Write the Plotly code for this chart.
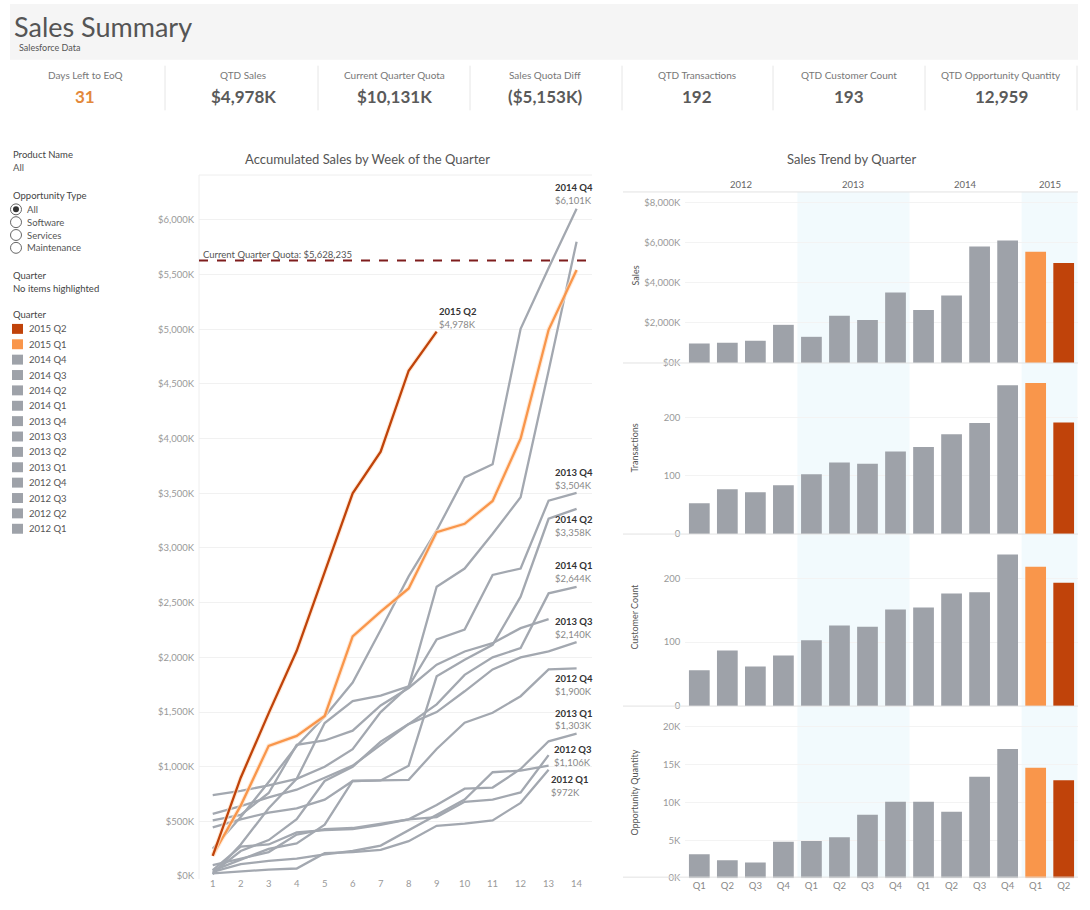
import plotly.graph_objects as go

W, H = 1090, 910
FONT = "Lato"

# ---------------- data ----------------
weeks = list(range(1, 15))
quarters = ["2012 Q1", "2012 Q2", "2012 Q3", "2012 Q4",
            "2013 Q1", "2013 Q2", "2013 Q3", "2013 Q4",
            "2014 Q1", "2014 Q2", "2014 Q3", "2014 Q4",
            "2015 Q1", "2015 Q2"]
quarter_ticks = ["Q1", "Q2", "Q3", "Q4"] * 3 + ["Q1", "Q2"]
years = ["2012", "2013", "2014", "2015"]

# accumulated sales ($K) by week of quarter
acc_2012_q1 = [25, 45, 60, 70, 210, 220, 240, 320, 460, 480, 510, 670, 972]
acc_2012_q2 = [40, 110, 140, 160, 200, 230, 280, 420, 560, 700, 950, 965, 1010]
acc_2012_q3 = [55, 270, 290, 400, 420, 430, 470, 520, 540, 680, 700, 766, 1106]
acc_2012_q4 = [445, 520, 580, 620, 700, 870, 875, 880, 1163, 1403, 1494, 1645, 1890, 1900]
acc_2013_q1 = [100, 160, 220, 380, 430, 440, 480, 520, 650, 800, 810, 980, 1233, 1303]
acc_2013_q2 = [510, 560, 760, 1200, 1240, 1330, 1560, 1720, 1933, 2054, 2130, 2267, 2350]
acc_2013_q3 = [570, 640, 720, 790, 900, 1010, 1200, 1390, 1500, 1690, 1890, 2000, 2055, 2140]
acc_2013_q4 = [740, 780, 830, 890, 1000, 1160, 1500, 1736, 2164, 2254, 2754, 2812, 3433, 3504]
acc_2014_q1 = [30, 230, 330, 520, 870, 1000, 1230, 1390, 1570, 1840, 2000, 2085, 2585, 2644]
acc_2014_q2 = [50, 150, 250, 300, 470, 870, 875, 1010, 1827, 1979, 2115, 2555, 3267, 3358]
acc_2014_q3 = [18, 290, 620, 890, 1400, 1600, 1650, 1736, 2645, 2812, 3130, 3464, 4620, 5800]
acc_2014_q4 = [250, 540, 860, 1190, 1460, 1770, 2250, 2740, 3160, 3645, 3766, 5003, 5560, 6101]
acc_2015_q1 = [191, 645, 1191, 1282, 1464, 2191, 2418, 2630, 3145, 3221, 3430, 4000, 4994, 5540]
acc_2015_q2 = [185, 900, 1490, 2060, 2780, 3500, 3880, 4620, 4978]

accumulated = [acc_2012_q1, acc_2012_q2, acc_2012_q3, acc_2012_q4,
               acc_2013_q1, acc_2013_q2, acc_2013_q3, acc_2013_q4,
               acc_2014_q1, acc_2014_q2, acc_2014_q3, acc_2014_q4,
               acc_2015_q1, acc_2015_q2]

quota_k = 5628.235
transactions = [53, 77, 72, 84, 103, 123, 121, 142, 150, 172, 191, 256, 260, 192]
customers = [56, 87, 62, 79, 103, 126, 124, 151, 154, 176, 178, 237, 218, 193]
opportunities = [3160, 2370, 2060, 4830, 4900, 5400, 8400, 10100, 10100, 8800, 13400, 17100, 14600, 12959]
sales_totals = [s[-1] for s in accumulated]

kpi_labels = ["Days Left to EoQ", "QTD Sales", "Current Quarter Quota", "Sales Quota Diff",
              "QTD Transactions", "QTD Customer Count", "QTD Opportunity Quantity"]
kpi_values = ["31", "$4,978K", "$10,131K", "($5,153K)", "192", "193", "12,959"]

labelled = ["2014 Q4", "2015 Q2", "2013 Q4", "2014 Q2", "2014 Q1", "2013 Q3",
            "2012 Q4", "2013 Q1", "2012 Q3", "2012 Q1"]
legend_order = quarters[::-1]
opp_types = ["All", "Software", "Services", "Maintenance"]

# ---------------- styles ----------------
GRAY = "#9ea2a9"
LINE_GRAY = "#a3a8b0"
ORANGE_L = "#f9964b"
ORANGE_D = "#c0430a"
TXT = "#555555"


def px(x):
    return x / W


def py(y):
    return 1 - y / H


def q_color(q, line=False):
    if q == "2015 Q2":
        return ORANGE_D
    if q == "2015 Q1":
        return ORANGE_L
    return LINE_GRAY if line else GRAY


fig = go.Figure()

# ---------------- line chart ----------------
for q, vals in zip(quarters, accumulated):
    wk = weeks[:len(vals)]
    if q.startswith("2015"):
        fig.add_trace(go.Scatter(x=wk, y=vals, mode="lines",
                                 line=dict(color="rgba(255,225,200,0.7)", width=4.5),
                                 xaxis="x", yaxis="y", hoverinfo="skip", showlegend=False))
    fig.add_trace(go.Scatter(x=wk, y=vals, mode="lines",
                             line=dict(color=q_color(q, True), width=2.3),
                             xaxis="x", yaxis="y", name=q, hoverinfo="skip", showlegend=False))

# ---------------- bar panels ----------------
bar_colors = [q_color(q) for q in quarters]
for vals, ya in [(sales_totals, "y2"), (transactions, "y3"), (customers, "y4"), (opportunities, "y5")]:
    fig.add_trace(go.Bar(x=quarters, y=vals, marker=dict(color=bar_colors, line=dict(width=0)),
                         width=0.74, xaxis="x2", yaxis=ya, hoverinfo="skip", showlegend=False))

shapes = []
annotations = []

# title band
shapes.append(dict(type="rect", xref="paper", yref="paper", x0=px(10), x1=px(1078),
                   y0=py(60), y1=py(4), fillcolor="#f5f5f5", line=dict(width=0), layer="below"))
annotations.append(dict(text="Sales Summary", x=px(12), y=py(27), xref="paper", yref="paper",
                        xanchor="left", yanchor="middle", showarrow=False,
                        font=dict(family=FONT, size=27, color=TXT)))
annotations.append(dict(text="Salesforce Data", x=px(17), y=py(48), xref="paper", yref="paper",
                        xanchor="left", yanchor="middle", showarrow=False,
                        font=dict(family=FONT, size=9, color=TXT)))

# KPI row
kpi_centers = [85, 243, 394, 545, 697, 849, 1001]
for i, (lab, val) in enumerate(zip(kpi_labels, kpi_values)):
    cx = kpi_centers[i]
    annotations.append(dict(text=lab, x=px(cx), y=py(75), xref="paper", yref="paper",
                            xanchor="center", yanchor="middle", showarrow=False,
                            font=dict(family=FONT, size=10, color="#777777")))
    annotations.append(dict(text="<b>%s</b>" % val, x=px(cx), y=py(97), xref="paper", yref="paper",
                            xanchor="center", yanchor="middle", showarrow=False,
                            font=dict(family=FONT, size=17, color="#e3883a" if i == 0 else "#5a5a5a")))
for sx in [165, 318, 470, 622, 773, 925, 1077]:
    shapes.append(dict(type="line", xref="paper", yref="paper", x0=px(sx), x1=px(sx),
                       y0=py(66), y1=py(111), line=dict(color="#e6e6e6", width=1)))

# left filter panel
def left_text(t, y, x=11, color="#444444", size=9.5):
    annotations.append(dict(text=t, x=px(x), y=py(y), xref="paper", yref="paper",
                            xanchor="left", yanchor="middle", showarrow=False,
                            font=dict(family=FONT, size=size, color=color)))

left_text("Product Name", 155)
left_text("All", 168, color="#555555")
left_text("Opportunity Type", 197)
for i, t in enumerate(opp_types):
    yy = 210.5 + i * 12.9
    shapes.append(dict(type="circle", xref="paper", yref="paper", x0=px(10.5), x1=px(21.5),
                       y0=py(yy + 5.5), y1=py(yy - 5.5), line=dict(color="#666666", width=1),
                       fillcolor="white"))
    if i == 0:
        shapes.append(dict(type="circle", xref="paper", yref="paper", x0=px(13), x1=px(19),
                           y0=py(yy + 3), y1=py(yy - 3), line=dict(color="#333333", width=0),
                           fillcolor="#333333"))
    left_text(t, yy, x=25, color="#555555")
left_text("Quarter", 277)
left_text("No items highlighted", 290, color="#444444")
left_text("Quarter", 316)
for i, q in enumerate(legend_order):
    yy = 330.7 + i * 15.46
    shapes.append(dict(type="rect", xref="paper", yref="paper", x0=px(12), x1=px(23),
                       y0=py(yy + 5), y1=py(yy - 5), line=dict(width=0), fillcolor=q_color(q)))
    left_text(q, yy, x=27, color="#555555")

# line chart title, quota line, borders
annotations.append(dict(text="Accumulated Sales by Week of the Quarter", x=px(367), y=py(160),
                        xref="paper", yref="paper", xanchor="center", yanchor="middle",
                        showarrow=False, font=dict(family=FONT, size=13, color=TXT)))
shapes.append(dict(type="line", xref="paper", yref="paper", x0=px(199), x1=px(592),
                   y0=py(176), y1=py(176), line=dict(color="#eeeeee", width=1)))
shapes.append(dict(type="line", xref="paper", yref="paper", x0=px(199), x1=px(199),
                   y0=py(176), y1=py(884), line=dict(color="#eeeeee", width=1)))
shapes.append(dict(type="line", xref="x domain", yref="y", x0=0, x1=1, y0=quota_k, y1=quota_k,
                   line=dict(color="#7e1d1d", width=2, dash="dash")))
annotations.append(dict(text="Current Quarter Quota: $%s" % format(int(round(quota_k * 1000)), ","),
                        x=px(201), y=py(256), xref="paper", yref="paper", xanchor="left",
                        yanchor="middle", showarrow=False,
                        font=dict(family=FONT, size=9.5, color=TXT)))

# end-of-line labels (position in px: left x, y of name)
label_pos = {"2014 Q4": (553, 189), "2015 Q2": (437, 313), "2013 Q4": (553, 475),
             "2014 Q2": (553, 522), "2014 Q1": (553, 569), "2013 Q3": (553, 625),
             "2012 Q4": (553, 682), "2013 Q1": (553, 717), "2012 Q3": (552, 754),
             "2012 Q1": (549, 784)}
for q in labelled:
    vals = accumulated[quarters.index(q)]
    lx, ly = label_pos[q]
    annotations.append(dict(text="<b>%s</b>" % q, x=px(lx), y=py(ly), xref="paper", yref="paper",
                            xanchor="left", yanchor="middle", showarrow=False,
                            font=dict(family=FONT, size=9.5, color="#333333")))
    annotations.append(dict(text="$%sK" % format(vals[-1], ","), x=px(lx), y=py(ly + 13),
                            xref="paper", yref="paper", xanchor="left", yanchor="middle",
                            showarrow=False, font=dict(family=FONT, size=9.5, color="#888888")))

# bar panel decorations
annotations.append(dict(text="Sales Trend by Quarter", x=px(851), y=py(160), xref="paper",
                        yref="paper", xanchor="center", yanchor="middle", showarrow=False,
                        font=dict(family=FONT, size=13, color=TXT)))
for xa, xb in [(3.5, 7.5), (11.5, 13.5)]:
    shapes.append(dict(type="rect", xref="x2", yref="paper", x0=xa, x1=xb, y0=py(882), y1=py(193),
                       fillcolor="#f2fafd", line=dict(width=0), layer="below"))
for yy in [193, 365, 537, 710, 882]:
    shapes.append(dict(type="line", xref="paper", yref="paper", x0=px(623), x1=px(1078),
                       y0=py(yy), y1=py(yy), line=dict(color="#e2e2e2", width=1)))
for yr, xc in zip(years, [1.5, 5.5, 9.5, 12.5]):
    annotations.append(dict(text=yr, x=xc, y=py(186), xref="x2", yref="paper", xanchor="center",
                            yanchor="middle", showarrow=False,
                            font=dict(family=FONT, size=9.5, color="#666666")))
for t, yy in [("Sales", 277), ("Transactions", 451), ("Customer Count", 620),
              ("Opportunity Quantity", 797)]:
    annotations.append(dict(text=t, x=px(635), y=py(yy), xref="paper", yref="paper",
                            xanchor="center", yanchor="middle", textangle=-90, showarrow=False,
                            font=dict(family=FONT, size=9, color=TXT)))

tickfont = dict(family=FONT, size=9.5, color="#999999")
sales_ticks = [0, 500, 1000, 1500, 2000, 2500, 3000, 3500, 4000, 4500, 5000, 5500, 6000]
bar_x_dom = [px(685.3), px(1077.7)]

fig.update_layout(
    width=W, height=H, margin=dict(l=0, r=0, t=0, b=0),
    paper_bgcolor="white", plot_bgcolor="rgba(0,0,0,0)",
    showlegend=False, bargap=0.26,
    shapes=shapes, annotations=annotations,
    xaxis=dict(domain=[px(199), px(592)], range=[0.51, 14.55], tickvals=weeks, anchor="y",
               showgrid=False, zeroline=False, showline=False, ticks="", tickfont=tickfont,
               fixedrange=True),
    yaxis=dict(domain=[py(881), py(176)], range=[0, 6409], tickvals=sales_ticks,
               ticktext=["$%sK" % format(v, ",") for v in sales_ticks], anchor="x",
               gridcolor="#f1f1f1", zeroline=False, showline=False, tickfont=tickfont,
               ticklabelstandoff=4),
    xaxis2=dict(domain=bar_x_dom, range=[-0.5, 13.5], anchor="y5", tickvals=quarters,
                ticktext=quarter_ticks, showgrid=False, zeroline=False, showline=False,
                tickfont=dict(family=FONT, size=9.5, color="#888888"), type="category"),
    yaxis2=dict(domain=[py(365), py(193)], range=[0, 8515], anchor="x2",
                tickvals=[0, 2000, 4000, 6000, 8000],
                ticktext=["$0K", "$2,000K", "$4,000K", "$6,000K", "$8,000K"],
                gridcolor="#f3f3f3", zeroline=False, tickfont=tickfont, ticklabelstandoff=4),
    yaxis3=dict(domain=[py(537), py(365)], range=[0, 294.5], anchor="x2",
                tickvals=[0, 100, 200], gridcolor="#f3f3f3", zeroline=False,
                tickfont=tickfont, ticklabelstandoff=4),
    yaxis4=dict(domain=[py(710), py(537)], range=[0, 269], anchor="x2",
                tickvals=[0, 100, 200], gridcolor="#f3f3f3", zeroline=False,
                tickfont=tickfont, ticklabelstandoff=4),
    yaxis5=dict(domain=[py(883), py(710)], range=[0, 22760], anchor="x2",
                tickvals=[0, 5000, 10000, 15000, 20000],
                ticktext=["0K", "5K", "10K", "15K", "20K"],
                gridcolor="#f3f3f3", zeroline=False, tickfont=tickfont, ticklabelstandoff=4),
)

fig.write_html("out.html")
